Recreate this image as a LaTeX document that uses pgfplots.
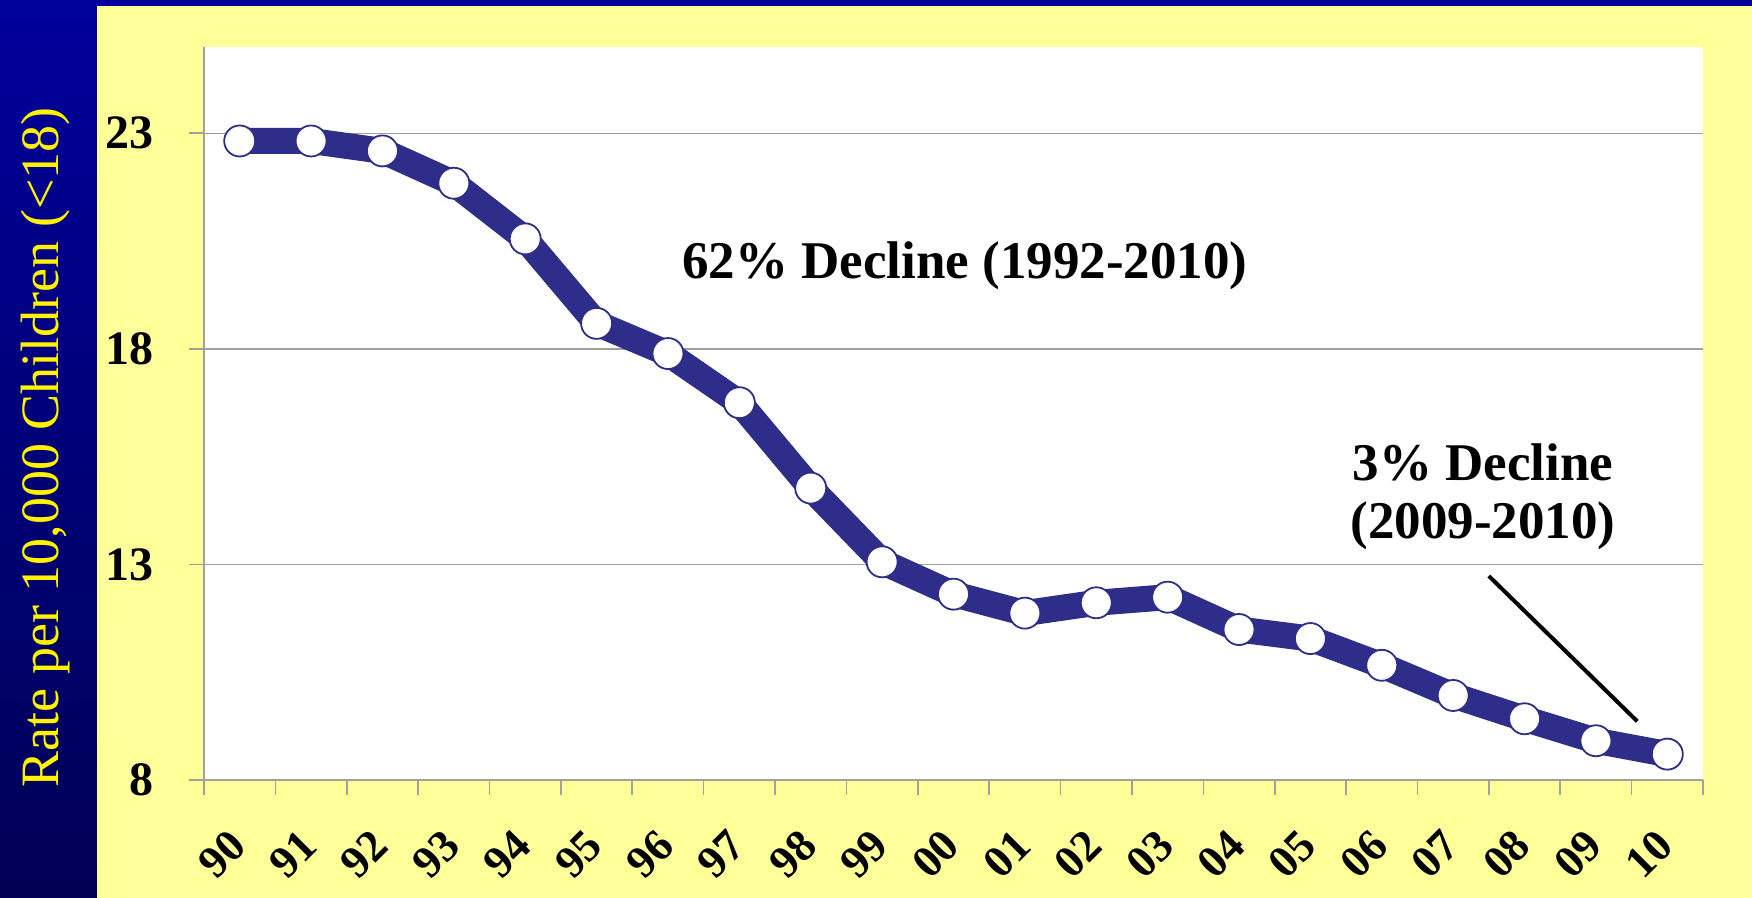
\documentclass[border=0pt]{standalone}
\usepackage{pgfplots}
\pgfplotsset{compat=1.18}
\usepackage{fontspec}
\setmainfont{Liberation Serif}
\definecolor{bgtop}{RGB}{0,0,155}
\definecolor{bgbot}{RGB}{0,0,85}
\definecolor{panel}{RGB}{255,255,153}
\definecolor{linec}{RGB}{46,46,138}
\definecolor{gridc}{RGB}{160,160,160}
\begin{document}
\begin{tikzpicture}
\useasboundingbox (0,0) rectangle (876pt,449pt);
\shade[top color=bgtop, bottom color=bgbot] (0,0) rectangle (876pt,449pt);
\fill[panel] (48.5pt,0) rectangle (876pt,446pt);
\begin{axis}[
  at={(102pt,59pt)}, anchor=south west,
  scale only axis, width=749.5pt, height=366.5pt,
  xmin=-0.5, xmax=20.5, ymin=8, ymax=25,
  axis background/.style={fill=white},
  axis x line*=bottom, axis y line*=left,
  axis line style={gridc, line width=0.8pt},
  ytick={8,13,18,23},
  xtick={0,...,20},
  xticklabels={90,91,92,93,94,95,96,97,98,99,00,01,02,03,04,05,06,07,08,09,10},
  minor xtick={-0.5,0.5,...,20.5},
  tick align=outside,
  major tick length=7.5pt, minor tick length=7.5pt,
  every tick/.style={gridc, line width=0.8pt},
  every major x tick/.append style={draw=none},
  ymajorgrids, grid style={gridc, line width=0.7pt},
  /pgf/number format/assume math mode=true,
  ticklabel style={font=\bfseries\fontsize{24}{24}\selectfont, text=black},
  xticklabel style={font=\bfseries\fontsize{22.5}{22.5}\selectfont, xshift=-9pt, yshift=-29.5pt, rotate=45, anchor=center},
  yticklabel style={xshift=-14pt},
  ylabel={Rate per 10,000 Children (<18)},
  ylabel style={at={(axis description cs:-0.106,0.454)}, anchor=center, text=yellow, font=\fontsize{27}{27}\selectfont},
  clip=false,
]
\addplot[linec, line width=13pt, line join=round, mark=*, mark size=7.75pt,
  mark options={fill=white, draw=linec, line width=0.9pt}]
coordinates {
(0,22.82) (1,22.82) (2,22.59) (3,21.84) (4,20.55) (5,18.59) (6,17.89)
(7,16.75) (8,14.77) (9,13.06) (10,12.31) (11,11.87) (12,12.11) (13,12.24)
(14,11.49) (15,11.28) (16,10.66) (17,9.96) (18,9.42) (19,8.91) (20,8.60)
};
\node[font=\bfseries\fontsize{26.5}{29}\selectfont] at (axis cs:10.16,19.92) {62\% Decline (1992-2010)};
\node[font=\bfseries\fontsize{26.5}{29}\selectfont, align=center] at (axis cs:17.42,14.56) {3\% Decline\\(2009-2010)};
\draw[black, line width=2pt] (axis cs:17.5,12.73) -- (axis cs:19.58,9.36);
\end{axis}
\end{tikzpicture}
\end{document}
